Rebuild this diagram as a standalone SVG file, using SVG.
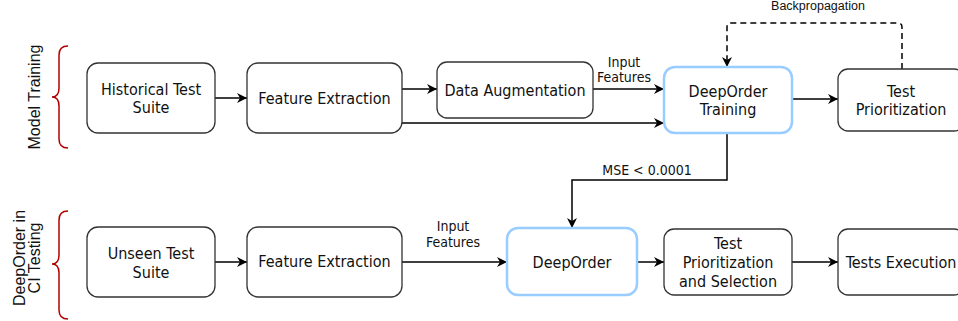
<svg xmlns="http://www.w3.org/2000/svg" width="958" height="321" viewBox="0 0 958 321">
<defs>
<style>
.box{fill:#fff;stroke:#333;stroke-width:1.3}
.blue{fill:#fff;stroke:#99CCFF;stroke-width:2.5}
.t{font-family:"DejaVu Sans Condensed","DejaVu Sans",sans-serif;font-size:16px;fill:#111;text-anchor:middle}
.s{font-family:"DejaVu Sans Condensed","DejaVu Sans",sans-serif;font-size:14px;fill:#111;text-anchor:middle}
.a{font-family:"Liberation Sans",Arial,sans-serif;fill:#111;text-anchor:middle}
.c{fill:none;stroke:#000;stroke-width:1.5}
.brace{fill:none;stroke:#B20000;stroke-width:1.5}
</style>
<marker id="arr" markerUnits="userSpaceOnUse" markerWidth="11" markerHeight="10" refX="10" refY="5" orient="auto">
<path d="M0,0 L10,5 L0,10 L3,5 Z" fill="#000"/>
</marker>
</defs>
<rect width="958" height="321" fill="#fff"/>

<g id="label-model-training">
<text class="a" font-size="16" transform="translate(40,97) rotate(-90)">Model Training</text>
<path class="brace" d="M68,46 Q59,46 59,55 V88 Q59,97 52,97 Q59,97 59,106 V139 Q59,148 68,148"/>
</g>
<g id="label-ci-testing">
<text class="a" font-size="16" transform="translate(25,258) rotate(-90)">DeepOrder in</text>
<text class="a" font-size="16" transform="translate(40,258) rotate(-90)">CI Testing</text>
<path class="brace" d="M68,211 Q59,211 59,220 V255 Q59,264 52,264 Q59,264 59,273 V310 Q59,319 68,319"/>
</g>

<g id="connectors">
<path class="c" d="M215,98 H247" marker-end="url(#arr)"/>
<path class="c" d="M402,89 H437" marker-end="url(#arr)"/>
<path class="c" d="M593,89 H664" marker-end="url(#arr)"/>
<path class="c" d="M402,123 H664" marker-end="url(#arr)"/>
<path class="c" d="M792,99 H838" marker-end="url(#arr)"/>
<path class="c" d="M902,69 V27 Q902,23 898,23 H731 Q727,23 727,27 V67" stroke-dasharray="6,4" marker-end="url(#arr)"/>
<path class="c" d="M727,133 V180 H572 V228" marker-end="url(#arr)"/>
<path class="c" d="M215,262 H247" marker-end="url(#arr)"/>
<path class="c" d="M402,262 H507" marker-end="url(#arr)"/>
<path class="c" d="M637,262 H664" marker-end="url(#arr)"/>
<path class="c" d="M792,262 H838" marker-end="url(#arr)"/>
<text class="a" font-size="12.5" x="818" y="10">Backpropagation</text>
<text class="s" x="624" y="67">Input</text>
<text class="s" x="624" y="82">Features</text>
<text class="s" x="453" y="231">Input</text>
<text class="s" x="453" y="247">Features</text>
<text class="s" x="647" y="175">MSE &lt; 0.0001</text>
</g>

<g id="historical-test-suite">
<rect class="box" x="87" y="63" width="128" height="70" rx="11"/>
<text class="t" x="151" y="95">Historical Test</text>
<text class="t" x="151" y="113">Suite</text>
</g>
<g id="feature-extraction-1">
<rect class="box" x="247" y="63" width="155" height="70" rx="11"/>
<text class="t" x="324.5" y="104">Feature Extraction</text>
</g>
<g id="data-augmentation">
<rect class="box" x="437" y="62" width="156" height="56" rx="10"/>
<text class="t" x="515" y="96">Data Augmentation</text>
</g>
<g id="deeporder-training">
<rect class="blue" x="664" y="67" width="128" height="66" rx="11"/>
<text class="t" x="728" y="97">DeepOrder</text>
<text class="t" x="728" y="115">Training</text>
</g>
<g id="test-prioritization">
<rect class="box" x="838" y="69" width="126" height="62" rx="10"/>
<text class="t" x="901" y="97">Test</text>
<text class="t" x="901" y="115">Prioritization</text>
</g>

<g id="unseen-test-suite">
<rect class="box" x="87" y="227" width="128" height="70" rx="11"/>
<text class="t" x="151" y="259">Unseen Test</text>
<text class="t" x="151" y="278">Suite</text>
</g>
<g id="feature-extraction-2">
<rect class="box" x="247" y="227" width="155" height="70" rx="11"/>
<text class="t" x="324.5" y="267">Feature Extraction</text>
</g>
<g id="deeporder">
<rect class="blue" x="507" y="228" width="130" height="67" rx="11"/>
<text class="t" x="572" y="268">DeepOrder</text>
</g>
<g id="test-prioritization-selection">
<rect class="box" x="664" y="229" width="128" height="66" rx="10"/>
<text class="t" x="728" y="249">Test</text>
<text class="t" x="728" y="268">Prioritization</text>
<text class="t" x="728" y="287">and Selection</text>
</g>
<g id="tests-execution">
<rect class="box" x="838" y="229" width="126" height="66" rx="10"/>
<text class="t" x="901" y="268">Tests Execution</text>
</g>
</svg>
